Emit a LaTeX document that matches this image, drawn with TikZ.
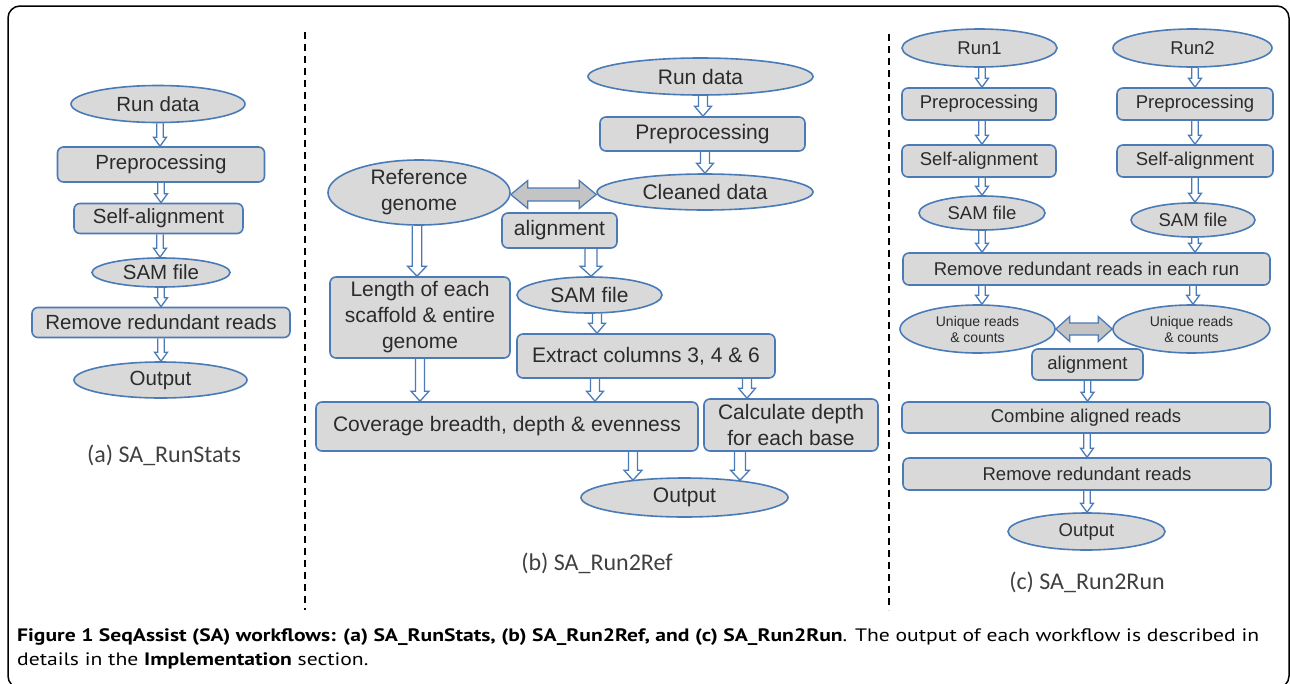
\documentclass[tikz,border=0pt]{standalone}
\usepackage{fontspec}
\setmainfont{Liberation Sans}
\newfontfamily\calfont{Carlito}
\newfontfamily\capfont{PT Sans}
\usetikzlibrary{shapes.geometric,calc}
\definecolor{bord}{HTML}{4A7BB7}
\definecolor{boxfill}{HTML}{D9D9D9}
\definecolor{txtc}{HTML}{2B2B2B}
\definecolor{dblfill}{HTML}{C4C4C4}
\definecolor{lblc}{HTML}{404040}
\pgfdeclarelayer{bg}
\pgfsetlayers{bg,main}
\newsavebox\capboxA
\tikzset{
  base/.style={draw=bord, fill=boxfill, line width=1.6pt, inner sep=0pt, text=txtc, align=center},
  boxA/.style={base, rectangle, rounded corners=6pt},
  ellA/.style={base, ellipse},
  sz/.style 2 args={minimum width=#1pt, minimum height=#2pt},
  fa/.style={font=\fontsize{20.5}{26}\selectfont},
  fb/.style={font=\fontsize{21}{26}\selectfont},
  fc/.style={font=\fontsize{18.5}{24}\selectfont},
  fs/.style={font=\fontsize{14}{16}\selectfont},
  flowarrow/.style={draw=bord, line width=1.3pt, fill=white, line join=miter},
  dblarrow/.style={draw=bord, line width=1.3pt, fill=dblfill, line join=miter},
  divider/.style={draw=black, line width=2pt, dash pattern=on 7pt off 5pt},
  frame/.style={draw=black, line width=1.5pt, rounded corners=12pt},
  panlbl/.style={font=\calfont\fontsize{24}{28}\selectfont, text=lblc, inner sep=0pt},
  capsty/.style={text=black, inner sep=0pt},
}
% vertical hollow arrow: shaft half-width, head half-width, head length, from, to
\newcommand\varrow[5]{%
  \draw[flowarrow] let \p1=(#4), \p2=(#5) in
  (\x1-#1pt,\y1) -- (\x1-#1pt,\y2+#3pt) -- (\x1-#2pt,\y2+#3pt) -- (\x1,\y2)
  -- (\x1+#2pt,\y2+#3pt) -- (\x1+#1pt,\y2+#3pt) -- (\x1+#1pt,\y1);}
% horizontal double-headed arrow: shaft half-height, head half-height, head length, left, right
\newcommand\harrow[5]{%
  \draw[dblarrow] let \p1=(#4), \p2=(#5) in
  (\x1,\y1) -- (\x1+#3pt,\y1+#2pt) -- (\x1+#3pt,\y1+#1pt) -- (\x2-#3pt,\y1+#1pt)
  -- (\x2-#3pt,\y1+#2pt) -- (\x2,\y1) -- (\x2-#3pt,\y1-#2pt) -- (\x2-#3pt,\y1-#1pt)
  -- (\x1+#3pt,\y1-#1pt) -- (\x1+#3pt,\y1-#2pt) -- cycle;}
\newcommand\capset{\capfont\fontsize{18}{22}\selectfont}
\begin{document}
\sbox\capboxA{\capset\textbf{Figure 1 SeqAssist (SA) workflows: (a) SA\_RunStats, (b) SA\_Run2Ref, and (c) SA\_Run2Run}. The output of each workflow is described in}%
\pgfmathsetmacro\capsx{1242/(\the\wd\capboxA)}%
\begin{tikzpicture}[x=1pt, y=-1pt]
\useasboundingbox (0,0) rectangle (1290,683);
\draw[frame] (8,6) rectangle (1289,688);
\draw[divider] (305,32) -- (305,610);
\draw[divider] (889,34) -- (889,610);

% ---------- (a) SA_RunStats ----------
\node[ellA, fa, sz={174}{37}] (a1) at (158,104) {Run data};
\node[boxA, fa, sz={207}{35}] (a2) at (161,164.5) {Preprocessing};
\node[boxA, fa, sz={169}{30}] (a3) at (158.5,218.5) {Self-alignment};
\node[ellA, fa, sz={138}{29}] (a4) at (161,272.5) {SAM file};
\node[boxA, fa, sz={258}{30}] (a5) at (161,322.5) {Remove redundant reads};
\node[ellA, fa, sz={173}{36}] (a6) at (160.5,380) {Output};
\node[panlbl] (la) at (164,455) {(a) SA\_RunStats};

% ---------- (b) SA_Run2Ref ----------
\node[ellA, fb, sz={225}{37}] (b1) at (700.5,76.5) {Run data};
\node[boxA, fb, sz={205}{34}] (b2) at (702.5,134) {Preprocessing};
\node[ellA, fb, sz={216}{36}] (b3) at (705,192) {Cleaned data};
\node[ellA, fb, sz={182}{65}] (b4) at (419,192.5) {Reference\\genome};
\node[boxA, fb, sz={115}{35}] (b5) at (559.5,230.5) {alignment};
\node[ellA, fb, sz={145}{36}] (b6) at (589.5,295) {SAM file};
\node[boxA, fb, sz={180}{81}] (b7) at (420,317.5) {Length of each\\scaffold \& entire\\genome};
\node[boxA, fb, sz={258}{44}] (b8) at (646,356) {Extract columns 3, 4 \& 6};
\node[boxA, fb, sz={382}{49}] (b9) at (507,426.5) {Coverage breadth, depth \& evenness};
\node[boxA, fb, sz={174}{52}] (b10) at (791,425) {Calculate depth\\for each base};
\node[ellA, fb, sz={207}{39}] (b11) at (684.5,497.5) {Output};
\node[panlbl] (lb) at (597,563) {(b) SA\_Run2Ref};

% ---------- (c) SA_Run2Run ----------
\node[ellA, fc, sz={155}{38}] (c1) at (979.5,48) {Run1};
\node[ellA, fc, sz={159}{38}] (c2) at (1192.5,48) {Run2};
\node[boxA, fc, sz={154}{32}] (c3) at (979,104) {Preprocessing};
\node[boxA, fc, sz={156}{32}] (c4) at (1195,104) {Preprocessing};
\node[boxA, fc, sz={154}{32}] (c5) at (979,161) {Self-alignment};
\node[boxA, fc, sz={156}{32}] (c6) at (1195,161) {Self-alignment};
\node[ellA, fc, sz={126}{34}] (c7) at (982,213) {SAM file};
\node[ellA, fc, sz={124}{34}] (c8) at (1193,220) {SAM file};
\node[boxA, fc, sz={367}{32}] (c9) at (1086.5,269) {Remove redundant reads in each run};
\node[ellA, fs, sz={155}{48}] (c10) at (977.5,329) {Unique reads\\\& counts};
\node[ellA, fs, sz={157}{48}] (c11) at (1191.5,329) {Unique reads\\\& counts};
\node[boxA, fc, sz={111}{31}] (c12) at (1087.5,364.5) {alignment};
\node[boxA, fc, sz={368}{31}] (c13) at (1086,417.5) {Combine aligned reads};
\node[boxA, fc, sz={368}{32}] (c14) at (1087,474) {Remove redundant reads};
\node[ellA, fc, sz={157}{37}] (c15) at (1086.5,531.5) {Output};
\node[panlbl] (lc) at (1087,582) {(c) SA\_Run2Run};

% ---------- connectors ----------
\begin{pgfonlayer}{bg}
  % (a)
  \varrow{3.3}{6.5}{9}{$(a1.south)+(2,0)$}{a2.north}
  \varrow{3.3}{6.5}{9}{a2.south}{a3.north}
  \varrow{3.3}{6.5}{9}{$(a3.south)+(1.5,0)$}{a4.north}
  \varrow{3.3}{6.5}{9}{a4.south}{a5.north}
  \varrow{3.3}{6.5}{9}{a5.south}{a6.north}
  % (b)
  \varrow{4.5}{8.5}{10}{$(b1.south)+(2.5,0)$}{b2.north}
  \varrow{4.5}{8.5}{10}{$(b2.south)+(2.5,0)$}{b3.north}
  \varrow{4.8}{9.5}{10}{$(b4.south)+(-2,0)$}{b7.north}
  \varrow{6}{11}{10}{$(b5.south)+(31.5,0)$}{b6.north}
  \varrow{4.5}{8.5}{10}{$(b6.south)+(7.5,0)$}{b8.north}
  \varrow{4.5}{9}{10}{b7.south}{b9.north}
  \varrow{4.5}{8.5}{10}{$(b8.south)+(-51,0)$}{b9.north}
  \varrow{4.5}{8.5}{10}{$(b8.south)+(101,0)$}{b10.north}
  \varrow{4.5}{9}{10}{$(b9.south)+(126,0)$}{$(b11.north)+(0,3)$}
  \varrow{5.5}{9.5}{10}{$(b10.south)+(-51,0)$}{$(b11.north)+(0,3)$}
  \harrow{6.5}{14}{17}{$(b4.east)+(0,2)$}{b3.west}
  % (c)
  \varrow{3.3}{6.5}{9}{$(c1.south)+(2.5,0)$}{c3.north}
  \varrow{3.3}{6.5}{9}{$(c2.south)+(2.5,0)$}{c4.north}
  \varrow{3.3}{6.5}{9}{$(c3.south)+(3,0)$}{c5.north}
  \varrow{3.3}{6.5}{9}{c4.south}{c6.north}
  \varrow{3.3}{6.5}{9}{$(c5.south)+(3,0)$}{c7.north}
  \varrow{3.3}{6.5}{9}{c6.south}{c8.north}
  \varrow{3.3}{6.5}{9}{c7.south}{c9.north}
  \varrow{3.3}{6.5}{9}{$(c8.south)+(2,0)$}{c9.north}
  \varrow{3.3}{6.5}{9}{$(c9.south)+(-104.5,0)$}{c10.north}
  \varrow{3.3}{6.5}{9}{$(c9.south)+(106.5,0)$}{c11.north}
  \varrow{3.3}{6.5}{9}{c12.south}{c13.north}
  \varrow{3.3}{6.5}{9}{$(c13.south)+(1,0)$}{c14.north}
  \varrow{3.3}{6.5}{9}{c14.south}{c15.north}
  \harrow{6}{12.5}{14}{c10.east}{c11.west}
\end{pgfonlayer}

% ---------- caption ----------
\node[capsty, anchor=base west] (cap1) at (17,641)
  {\scalebox{\capsx}[1]{\usebox\capboxA}};
\node[capsty, anchor=base west] (cap2) at (17,665)
  {\scalebox{\capsx}[1]{\capset details in the \textbf{Implementation} section.}};
\end{tikzpicture}
\end{document}
